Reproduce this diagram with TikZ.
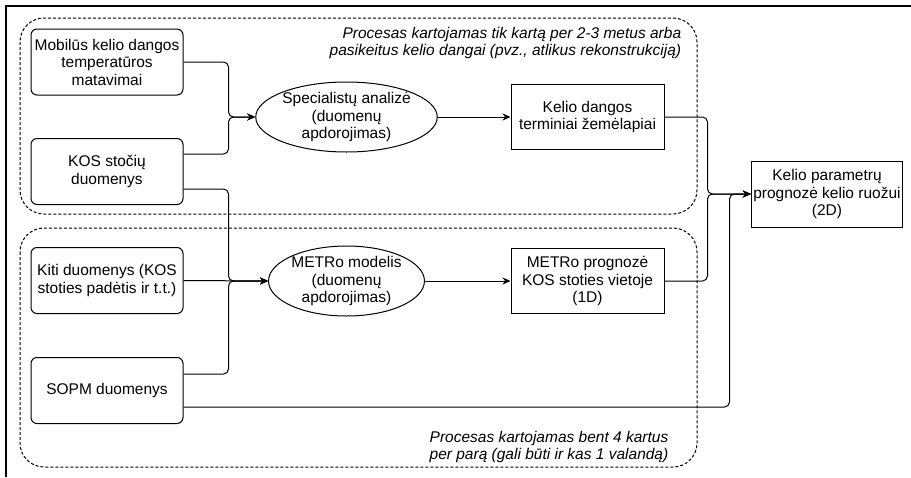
\documentclass[tikz,border=0pt]{standalone}
\usepackage{fontspec}
\setmainfont{Liberation Sans}
\usetikzlibrary{shapes.geometric,arrows.meta}

\tikzset{
	srcbox/.style={draw, rounded corners=6pt, minimum width=152pt, minimum height=66pt, align=center, inner sep=2pt},
	resbox/.style={draw, minimum width=153pt, minimum height=65pt, align=center, inner sep=2pt},
	procnode/.style={draw, ellipse, minimum width=153pt, minimum height=70pt, inner sep=0pt, align=center},
	flow/.style={-{Stealth[length=8pt,width=7pt]}, rounded corners=5pt},
	grpbox/.style={dash pattern=on 3pt off 2pt, rounded corners=24pt},
	grpnote/.style={font=\fontsize{15.5}{17.5}\itshape},
}

\begin{document}
\begin{tikzpicture}[x=1pt, y=-1pt, line width=1pt, font=\fontsize{15.5}{17.5}\selectfont]
	\useasboundingbox (0,0) rectangle (911,477);
	\draw[line width=2pt] (911,5.5) -- (6,5.5) -- (6,477);

	\draw[grpbox] (20,18) rectangle (697,214);
	\draw[grpbox] (20,228) rectangle (697,467);
	\node[grpnote, align=right, anchor=north east] (note1) at (685,23) {Procesas kartojamas tik kartą per 2-3 metus arba\\pasikeitus kelio dangai (pvz., atlikus rekonstrukciją)};
	\node[grpnote, align=center] (note2) at (549,447) {Procesas kartojamas bent 4 kartus\\per parą (gali būti ir kas 1 valandą)};

	\node[srcbox] (mob) at (107,62) {Mobilūs kelio dangos\\temperatūros\\matavimai};
	\node[srcbox] (kos) at (107,171.5) {KOS stočių\\duomenys};
	\node[srcbox] (kiti) at (107,280.5) {Kiti duomenys (KOS\\stoties padėtis ir t.t.)};
	\node[srcbox] (sopm) at (107,390.5) {SOPM duomenys};

	\node[procnode] (spec) at (346.5,117) {Specialistų analizė\\(duomenų\\apdorojimas)};
	\node[procnode] (metro) at (346.5,281) {METRo modelis\\(duomenų\\apdorojimas)};

	\node[resbox] (kd) at (587.5,117) {Kelio dangos\\terminiai žemėlapiai};
	\node[resbox] (mp) at (587.5,281) {METRo prognozė\\KOS stoties vietoje\\(1D)};
	\node[resbox, minimum width=150pt, minimum height=66pt] (kp) at (827,194) {Kelio parametrų\\prognozė kelio ruožui\\(2D)};

	\draw[flow] (mob.east) -- ++(45,0) |- (spec.west);
	\draw[flow] ([yshift=17.5pt]kos.east) -- ++(45,0) |- (spec.west);
	\draw[flow] ([yshift=-17.5pt]kos.east) -- ++(45,0) |- (metro.west);
	\draw[flow] (kiti.east) -- (metro.west);
	\draw[flow] ([yshift=16.5pt]sopm.east) -- ++(45,0) |- (metro.west);
	\draw[flow] (spec.east) -- (kd.west);
	\draw[flow] (metro.east) -- (mp.west);
	\draw[flow] (kd.east) -- ++(43,0) |- (kp.west);
	\draw[flow] (mp.east) -- ++(43,0) |- (kp.west);
	\draw[flow] ([yshift=-16.5pt]sopm.east) -- ++(546,0) |- (kp.west);
\end{tikzpicture}
\end{document}
